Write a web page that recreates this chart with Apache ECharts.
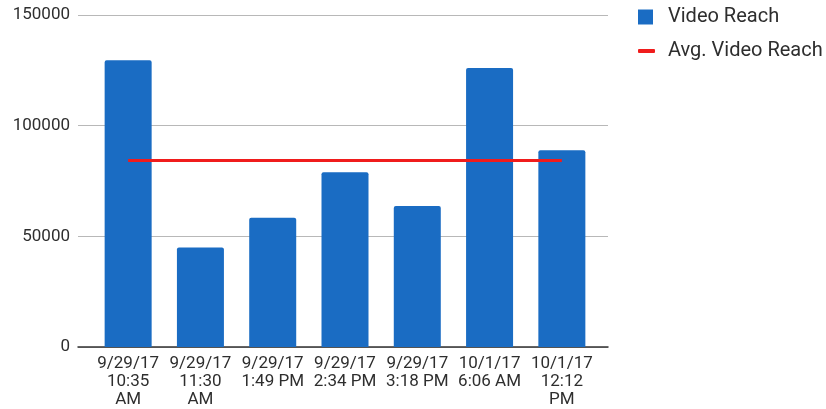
<!DOCTYPE html>
<html>
<head>
<meta charset="utf-8">
<script src="https://cdn.jsdelivr.net/npm/echarts@6/dist/echarts.min.js"></script>
<style>
  html, body { margin: 0; padding: 0; background: #fff; }
  #chart { width: 826px; height: 409px; }
</style>
</head>
<body>
<div id="chart"></div>
<script>
// Post times (category labels, wrapped as shown under each bar)
const postTimes = [
  '9/29/17\n10:35\nAM',
  '9/29/17\n11:30\nAM',
  '9/29/17\n1:49 PM',
  '9/29/17\n2:34 PM',
  '9/29/17\n3:18 PM',
  '10/1/17\n6:06 AM',
  '10/1/17\n12:12\nPM'
];
// Reach per video
const videoReach = [129500, 44900, 58400, 79000, 63700, 126000, 88900];
// Average reach, drawn as a flat line across the posts
const avgVideoReach = [84300, 84300, 84300, 84300, 84300, 84300, 84300];
// Value axis ticks
const yMin = 0, yMax = 150000, yStep = 50000;

const textColor = '#2e2e2e';
const font = 'Roboto, "Noto Sans", Arial, sans-serif';
const barColor = '#1a6cc3';
const lineColor = '#f01c1c';

const chart = echarts.init(document.getElementById('chart'), null, { renderer: 'canvas' });

chart.setOption({
  animation: false,
  backgroundColor: '#ffffff',
  textStyle: { fontFamily: font },
  legend: [
    {
      data: ['Video Reach'],
      left: 633, top: 2,
      icon: 'rect',
      itemWidth: 15, itemHeight: 15,
      textStyle: { color: textColor, fontSize: 20, fontFamily: font, padding: [0, 0, 0, 10] }
    },
    {
      data: ['Avg. Video Reach'],
      left: 633, top: 36,
      icon: 'roundRect',
      itemWidth: 17, itemHeight: 4,
      textStyle: { color: textColor, fontSize: 20, fontFamily: font, padding: [0, 0, 0, 8] }
    }
  ],
  grid: [
    // full-width plot frame: gridlines, value labels, baseline
    { left: 78, right: 218, top: 15, bottom: 62 },
    // inner band for the bars and average line
    { left: 92, right: 228, top: 15, bottom: 62 }
  ],
  xAxis: [
    {
      gridIndex: 0,
      type: 'category',
      data: postTimes,
      axisLine: { show: true, lineStyle: { color: '#333', width: 1.5 } },
      axisTick: { show: false },
      axisLabel: { show: false },
      splitLine: { show: false }
    },
    {
      gridIndex: 1,
      type: 'category',
      data: postTimes,
      axisLine: { show: false },
      axisTick: { show: false },
      axisLabel: {
        color: textColor, fontSize: 17, lineHeight: 18,
        fontFamily: font, margin: 8, interval: 0
      }
    }
  ],
  yAxis: [
    {
      gridIndex: 0,
      type: 'value',
      min: yMin, max: yMax, interval: yStep,
      axisLine: { show: false },
      axisTick: { show: false },
      axisLabel: {
        color: textColor, fontSize: 17, fontFamily: font, margin: 8,
        formatter: (v) => String(v)
      },
      splitLine: { show: true, lineStyle: { color: '#b8b8b8', width: 1 } }
    },
    {
      gridIndex: 1,
      type: 'value',
      min: yMin, max: yMax, interval: yStep,
      show: false
    }
  ],
  series: [
    {
      name: 'Video Reach',
      type: 'bar',
      xAxisIndex: 1, yAxisIndex: 1,
      data: videoReach,
      barWidth: 47,
      itemStyle: { color: barColor, borderRadius: [2, 2, 0, 0] }
    },
    {
      name: 'Avg. Video Reach',
      type: 'line',
      xAxisIndex: 1, yAxisIndex: 1,
      data: avgVideoReach,
      symbol: 'none',
      lineStyle: { color: lineColor, width: 3 },
      itemStyle: { color: lineColor },
      z: 3
    }
  ]
});
</script>
</body>
</html>
